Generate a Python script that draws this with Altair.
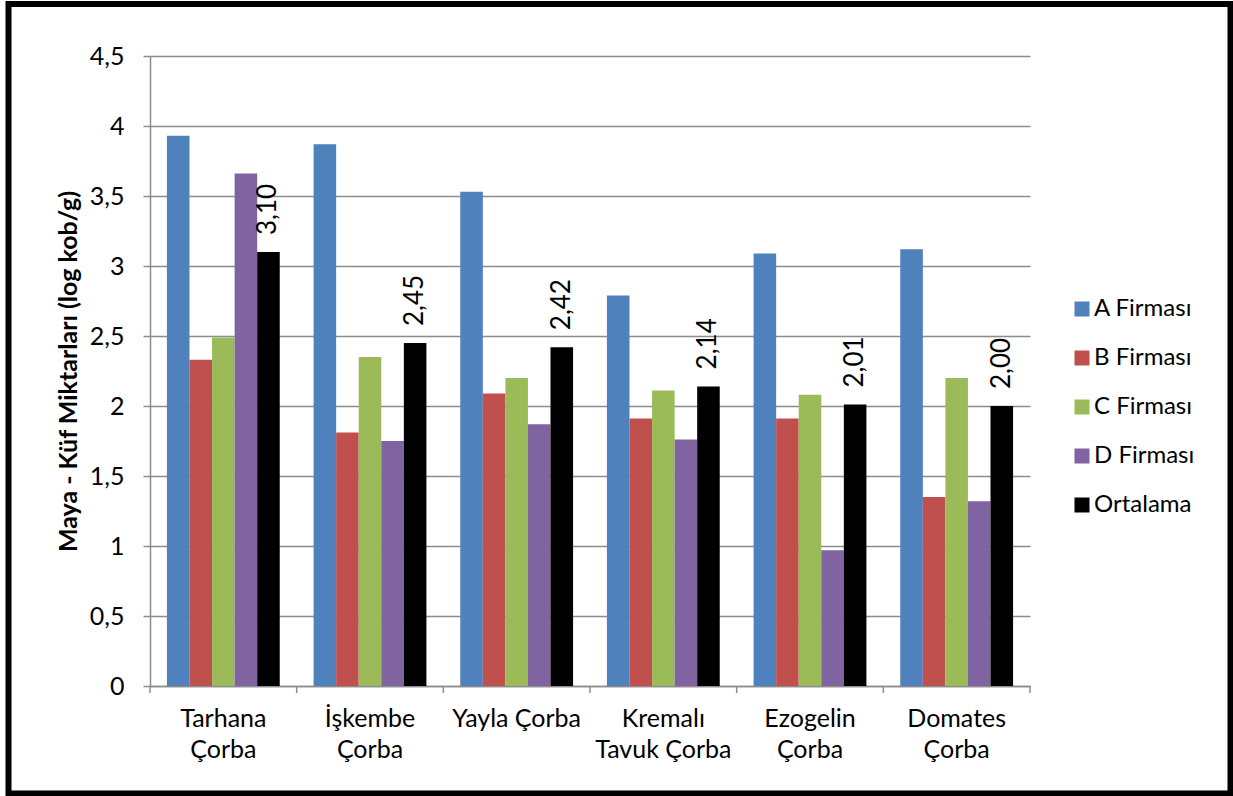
import altair as alt
import pandas as pd

# Soup types (two-line axis labels use "\n")
soups = ["Tarhana\nÇorba", "İşkembe\nÇorba", "Yayla Çorba",
         "Kremalı\nTavuk Çorba", "Ezogelin\nÇorba", "Domates\nÇorba"]
series = ["A Firması", "B Firması", "C Firması", "D Firması", "Ortalama"]
colors = ["#4F81BD", "#C0504D", "#9BBB59", "#8064A2", "#000000"]

# Yeast-mould counts (log cfu/g) per company and the mean
firma_a = [3.93, 3.87, 3.53, 2.79, 3.09, 3.12]
firma_b = [2.33, 1.81, 2.09, 1.91, 1.91, 1.35]
firma_c = [2.49, 2.35, 2.20, 2.11, 2.08, 2.20]
firma_d = [3.66, 1.75, 1.87, 1.76, 0.97, 1.32]
ortalama = [3.10, 2.45, 2.42, 2.14, 2.01, 2.00]

rows = []
for s, vals in zip(series, [firma_a, firma_b, firma_c, firma_d, ortalama]):
    for soup, v in zip(soups, vals):
        rows.append({"soup": soup, "series": s, "value": v})
df = pd.DataFrame(rows)

W, H = 880, 630
FONT = "Lato"

x_scale = alt.Scale(domain=soups, paddingInner=0, paddingOuter=0)
xo_scale = alt.Scale(domain=series, paddingInner=0, paddingOuter=0.75)
y_scale = alt.Scale(domain=[0, 4.5], nice=False)

base = alt.Chart(df)

bars = base.mark_bar(stroke=None).encode(
    x=alt.X("soup:N", scale=x_scale, sort=soups,
            axis=alt.Axis(title=None, labelAngle=0, ticks=False,
                          labelExpr="split(datum.label, '\\n')",
                          labelFontSize=25, labelColor="#000000",
                          labelFont=FONT, labelPadding=20,
                          labelLineHeight=31, labelBaseline="top",
                          domainColor="#8c8c8c", domainWidth=1.5)),
    xOffset=alt.XOffset("series:N", scale=xo_scale, sort=series),
    y=alt.Y("value:Q", scale=y_scale,
            axis=alt.Axis(title="Maya - Küf Miktarları (log kob/g)",
                          values=[0, 0.5, 1, 1.5, 2, 2.5, 3, 3.5, 4, 4.5],
                          labelExpr="replace(format(datum.value, '~g'), '.', ',')",
                          labelFontSize=25, labelFont=FONT, labelColor="#000000",
                          labelPadding=19, tickSize=7, tickColor="#8c8c8c",
                          tickWidth=1.5, domainColor="#8c8c8c", domainWidth=1.5,
                          gridColor="#8c8c8c", gridWidth=1.5,
                          titleFontSize=25, titleFont=FONT, titleFontWeight="bold",
                          titleColor="#000000", titlePadding=8)),
    color=alt.Color("series:N", sort=series,
                    scale=alt.Scale(domain=series, range=colors),
                    legend=alt.Legend(title=None, orient="none",
                                      legendX=920, legendY=241,
                                      symbolType="square", symbolSize=225,
                                      symbolStrokeWidth=0,
                                      labelFontSize=24, labelFont=FONT,
                                      labelColor="#000000", labelOffset=0,
                                      rowPadding=25)),
)

labels = base.transform_filter(
    alt.datum.series == "Ortalama"
).transform_calculate(
    lbl="replace(format(datum.value, '.2f'), '.', ',')"
).mark_text(angle=270, align="left", baseline="middle", dx=17,
            fontSize=26, font=FONT, color="#000000").encode(
    x=alt.X("soup:N", scale=x_scale, sort=soups),
    xOffset=alt.XOffset("series:N", scale=xo_scale, sort=series),
    y=alt.Y("value:Q", scale=y_scale),
    text="lbl:N",
)

# Category boundary ticks below the x axis
tick_df = pd.DataFrame({"soup": soups})
ticks_start = alt.Chart(tick_df).mark_rule(color="#8c8c8c", strokeWidth=1.5).encode(
    x=alt.X("soup:N", scale=x_scale, sort=soups, bandPosition=0),
    y=alt.value(H), y2=alt.value(H + 7),
)
ticks_end = alt.Chart(tick_df.tail(1)).mark_rule(color="#8c8c8c", strokeWidth=1.5).encode(
    x=alt.X("soup:N", scale=x_scale, sort=soups, bandPosition=1),
    y=alt.value(H), y2=alt.value(H + 7),
)

# Black frame around the whole figure
frame = alt.Chart(tick_df.head(1)).mark_rect(
    fill=None, stroke="#000000", strokeWidth=6
).encode(
    x=alt.value(-141.5), x2=alt.value(1080.5),
    y=alt.value(-52), y2=alt.value(737.5),
)

chart = alt.layer(bars, labels, ticks_start, ticks_end, frame).properties(
    width=W, height=H,
    autosize=alt.AutoSizeParams(type="none"),
    padding={"left": 150, "top": 56, "right": 203, "bottom": 110},
    background="#ffffff",
).configure_view(stroke=None)

chart.save("out.html", embed_options={"renderer": "svg", "actions": False})
